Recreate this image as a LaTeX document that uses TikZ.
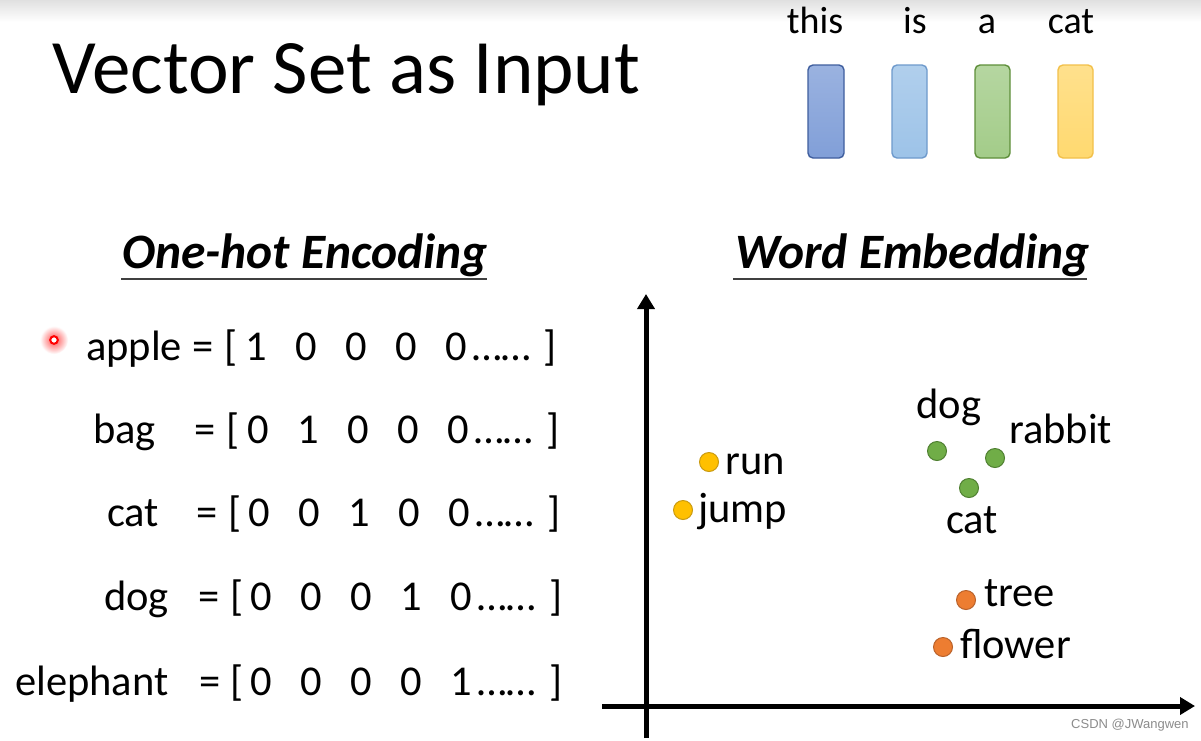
\documentclass[tikz,border=0pt]{standalone}
\usepackage{fontspec}
\setmainfont{Carlito}
\newfontfamily\wmfont{Liberation Sans}
\usetikzlibrary{arrows.meta}
\definecolor{barAf}{HTML}{819FD8}\definecolor{barAd}{HTML}{3F5E9E}
\definecolor{barBf}{HTML}{9DC3E8}\definecolor{barBd}{HTML}{6E9ACC}
\definecolor{barCf}{HTML}{A3CC89}\definecolor{barCd}{HTML}{5E8F3A}
\definecolor{barDf}{HTML}{FFD970}\definecolor{barDd}{HTML}{F2C04A}
\definecolor{ptY}{HTML}{FFC000}\definecolor{ptYd}{HTML}{C99A10}
\definecolor{ptG}{HTML}{70AD47}\definecolor{ptGd}{HTML}{4E7F30}
\definecolor{ptO}{HTML}{ED7D31}\definecolor{ptOd}{HTML}{B9612A}
\tikzset{
  title/.style={font=\fontsize{77}{80}\selectfont, inner sep=0, anchor=base west},
  topword/.style={font=\fontsize{38}{40}\selectfont, inner sep=0, anchor=base},
  bar/.style={rounded corners=5pt, line width=1.4pt},
  heading/.style={font=\fontsize{49.5}{52}\selectfont\bfseries\itshape, inner sep=0, anchor=base west},
  uline/.style={line width=1.5pt, draw=black!75},
  rowtxt/.style={font=\fontsize{42.5}{45}\selectfont, inner sep=0},
  ptlabel/.style={font=\fontsize{42.5}{45}\selectfont, inner sep=0},
  pt/.style={circle, minimum size=19pt, inner sep=0, line width=1pt},
  axis/.style={line width=5pt, -{Triangle[width=17pt,length=15pt]}},
}
\begin{document}
\begin{tikzpicture}[x=1pt,y=-1pt]
\useasboundingbox (0,0) rectangle (1201,740);
\fill[white] (0,0) rectangle (1201,740);
\shade[top color=black!12, bottom color=white] (0,0) rectangle (1201,22);

% title
\node[title] (title) at (52,93) {Vector Set as Input};

% top words and bars
\node[topword] (wthis) at (815,33) {this};
\node[topword] (wis) at (915,33) {is};
\node[topword] (wa) at (987,33) {a};
\node[topword] (wcat) at (1071,33) {cat};
\draw[bar, draw=barAd, top color=barAf!80!white, bottom color=barAf] (808,65) rectangle (844,158);
\draw[bar, draw=barBd, top color=barBf!80!white, bottom color=barBf] (892,65) rectangle (927,158);
\draw[bar, draw=barCd, top color=barCf!80!white, bottom color=barCf] (975,65) rectangle (1010,158);
\draw[bar, draw=barDd, top color=barDf!80!white, bottom color=barDf] (1058,65) rectangle (1093,158);

% headings
\node[heading] (h1) at (122,268) {One-hot Encoding};
\draw[uline] (121,279) -- (487,279);
\node[heading] (h2) at (735,268) {Word Embedding};
\draw[uline] (733,279) -- (1087,279);

% cursor mark
\shade[inner color=red!70, outer color=white] (54,340) circle (14);
\draw[red, line width=2pt, fill=white] (54,340) circle (3.8);

% one-hot rows
\foreach \ri/\wname/\yy/\lx/\ex/\bx/\dx/\rx in {1/apple/360/86/203/231/256/550, 2/bag/443/93/205/233/258/553, 3/cat/526/107/207/235/259/554, 4/dog/610/104/209/237/261/556, 5/elephant/695/15/210/237/261/556}{
  \node[rowtxt, anchor=base west] (w\ri) at (\lx,\yy) {\wname};
  \node[rowtxt, anchor=base] (eq\ri) at (\ex,\yy) {=};
  \node[rowtxt, anchor=base] (lb\ri) at (\bx,\yy) {[};
  \foreach \k in {1,...,5}{
    \pgfmathtruncatemacro{\xx}{\dx+50*(\k-1)}
    \node[rowtxt, anchor=base] (d\ri\k) at (\xx,\yy) {\ifnum\k=\ri\relax 1\else 0\fi};
  }
  \node[rowtxt, anchor=base west] (dots\ri) at (\dx+216,\yy) {……};
  \node[rowtxt, anchor=base] (rb\ri) at (\rx,\yy) {]};
}

% axes
\coordinate (ybot) at (646,738);
\coordinate (ytop) at (646,294);
\coordinate (xleft) at (602,706);
\coordinate (xright) at (1195,706);
\draw[axis] (ybot) -- (ytop);
\draw[axis] (xleft) -- (xright);

% points
\node[pt, fill=ptY, draw=ptYd] (prun) at (709,462) {};
\node[ptlabel, anchor=base west] (lrun) at (725,474) {run};
\node[pt, fill=ptY, draw=ptYd] (pjump) at (683,510) {};
\node[ptlabel, anchor=base west] (ljump) at (698,522) {jump};
\node[pt, fill=ptG, draw=ptGd] (pdog) at (937,451) {};
\node[ptlabel, anchor=base] (ldog) at (949,418) {dog};
\node[pt, fill=ptG, draw=ptGd] (prabbit) at (995,458) {};
\node[ptlabel, anchor=base west] (lrabbit) at (1009,443) {rabbit};
\node[pt, fill=ptG, draw=ptGd] (pcat) at (969,488) {};
\node[ptlabel, anchor=base] (lcat) at (972,533) {cat};
\node[pt, fill=ptO, draw=ptOd] (ptree) at (966,600) {};
\node[ptlabel, anchor=base west] (ltree) at (984,606) {tree};
\node[pt, fill=ptO, draw=ptOd] (pflower) at (943,647) {};
\node[ptlabel, anchor=base west] (lflower) at (960,658) {flower};

% watermark
\node[font=\wmfont\fontsize{13}{15}\selectfont, text=black!45, inner sep=0, anchor=base west] (wm) at (1071,728) {CSDN @JWangwen};
\end{tikzpicture}
\end{document}
